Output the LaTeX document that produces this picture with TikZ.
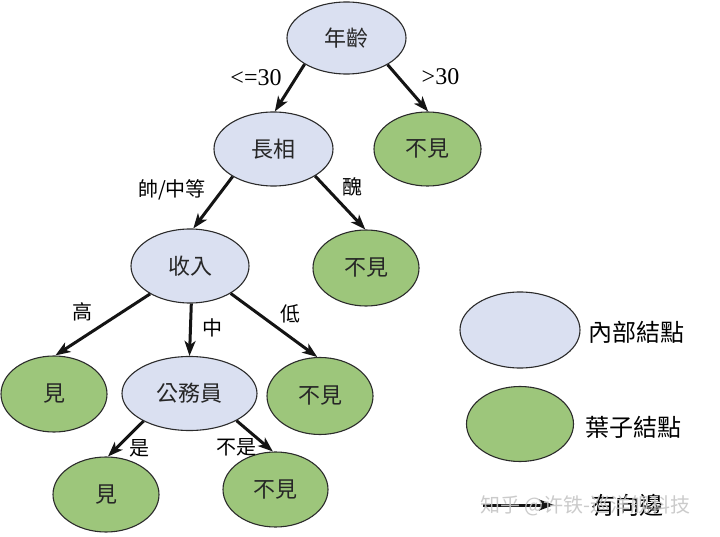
\documentclass[tikz,border=0pt]{standalone}
\usepackage{fontspec}
\setmainfont{Liberation Serif}
\newfontfamily\cjk{Noto Sans CJK TC}
\newfontfamily\cjksc{Noto Sans CJK SC}
\usetikzlibrary{shapes.geometric,arrows.meta}
\definecolor{innerc}{HTML}{DAE0F1}
\definecolor{leafc}{HTML}{9DC67B}
\definecolor{outl}{HTML}{2B2B2B}
\tikzset{
  basenode/.style={ellipse, draw=outl, line width=1.1pt, inner sep=0pt,
    font=\cjk\fontsize{22}{22}\selectfont, text=black!85},
  innode/.style={basenode, fill=innerc},
  leafnode/.style={basenode, fill=leafc},
  edge/.style={line width=3pt, draw=black!92,
    -{Stealth[length=15pt,width=11pt,inset=4pt]}},
  elab/.style={font=\cjk\fontsize{20}{20}\selectfont, inner sep=0pt},
  nlab/.style={font=\fontsize{24}{24}\selectfont, inner sep=0pt},
  leg/.style={font=\cjk\fontsize{24}{24}\selectfont, inner sep=0pt, anchor=west},
}
\begin{document}
\begin{tikzpicture}[x=1pt,y=-1pt]
\useasboundingbox[fill=white] (0,0) rectangle (720,537);

% tree nodes
\node[innode, minimum width=119pt, minimum height=72pt] (age) at (346.5,38) {年齡};
\node[innode, minimum width=119pt, minimum height=74pt] (looks) at (273.5,149) {長相};
\node[leafnode, minimum width=107pt, minimum height=74pt] (nosee1) at (427.5,149) {不見};
\node[innode, minimum width=118pt, minimum height=74pt] (income) at (190,266) {收入};
\node[leafnode, minimum width=106pt, minimum height=76pt] (nosee2) at (366,268) {不見};
\node[leafnode, minimum width=106pt, minimum height=76pt] (see1) at (54,394) {見};
\node[innode, minimum width=135pt, minimum height=74pt] (civil) at (189.5,393.5) {公務員};
\node[leafnode, minimum width=106pt, minimum height=77pt] (nosee3) at (320,396) {不見};
\node[leafnode, minimum width=106pt, minimum height=75pt] (see2) at (106,494.5) {見};
\node[leafnode, minimum width=105pt, minimum height=75pt] (nosee4) at (275.5,489.5) {不見};

% edges
\draw[edge] (age.212) -- (looks.88);
\draw[edge] (age.327) -- (nosee1.89);
\draw[edge] (looks.214) -- (income.85);
\draw[edge] (looks.327) -- (nosee2.91);
\draw[edge] (income.215) -- (see1.88);
\draw[edge] (income.272) -- (civil.90);
\draw[edge] (income.326) -- (nosee3.94);
\draw[edge] (civil.211) -- (see2.87);
\draw[edge] (civil.330) -- (nosee4.94);

% edge labels
\node[nlab] (l1) at (256,78) {<=30};
\node[nlab] (l2) at (440.5,77) {>30};
\node[elab] (l3) at (172,190) {帥/中等};
\node[elab] (l4) at (352,187) {醜};
\node[elab] (l5) at (82,312) {高};
\node[elab] (l6) at (212,328) {中};
\node[elab] (l7) at (290,314) {低};
\node[elab] (l8) at (139,448) {是};
\node[elab] (l9) at (236,447) {不是};

% legend
\node[innode, minimum width=120pt, minimum height=76pt] (legin) at (520,330) {};
\node[leafnode, minimum width=107pt, minimum height=75pt] (legleaf) at (520,424) {};
\node[leg] (legintxt) at (588,332) {內部結點};
\node[leg] (legleaftxt) at (585,427) {葉子結點};
\coordinate (la) at (483,505);
\coordinate (lb) at (554,505);
\draw[edge] (la) -- (lb);
\node[leg] (legedgetxt) at (591,505) {有向邊};

% watermark
\node[font=\cjksc\fontsize{20}{20}\selectfont, text=gray!45, inner sep=0pt, anchor=west, opacity=0.9] (wm) at (480,506) {知乎 @许铁-巡洋舰科技};
\end{tikzpicture}
\end{document}
